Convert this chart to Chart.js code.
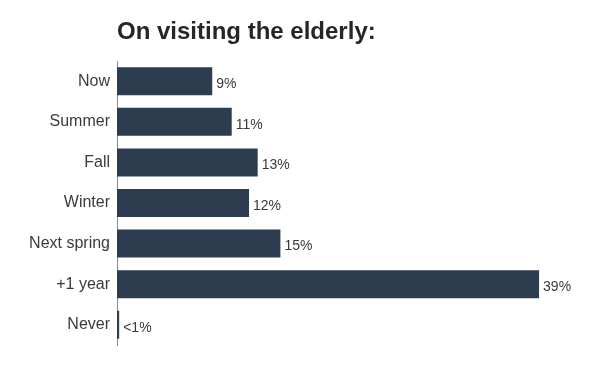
<!DOCTYPE html>
<html>
<head>
<meta charset="utf-8">
<script src="https://cdn.jsdelivr.net/npm/chart.js@4"></script>
<style>
html,body{margin:0;padding:0;background:#fff;}
#wrap{width:614px;height:366px;position:relative;}
</style>
</head>
<body>
<div id="wrap"><canvas id="c" width="614" height="366"></canvas></div>
<script>
const titleText = "On visiting the elderly:";
const categories = ["Now", "Summer", "Fall", "Winter", "Next spring", "+1 year", "Never"];
const values = [8.8, 10.6, 13.0, 12.2, 15.1, 39.0, 0.2];
const valueLabels = ["9%", "11%", "13%", "12%", "15%", "39%", "<1%"];

const extras = {
  id: 'extras',
  afterDraw(chart) {
    const ctx = chart.ctx;
    const area = chart.chartArea;
    ctx.save();
    ctx.fillStyle = '#262626';
    ctx.font = 'bold 24px "Liberation Sans", Arial, sans-serif';
    ctx.textAlign = 'left';
    ctx.textBaseline = 'middle';
    ctx.fillText(titleText, area.left, 32);
    const meta = chart.getDatasetMeta(0);
    ctx.font = '14px "Liberation Sans", Arial, sans-serif';
    ctx.fillStyle = '#3a3a3a';
    meta.data.forEach((bar, i) => {
      ctx.fillText(valueLabels[i], bar.x + 4, bar.y + 3);
    });
    ctx.restore();
  }
};

new Chart(document.getElementById('c'), {
  type: 'bar',
  data: {
    labels: categories,
    datasets: [{
      data: values,
      backgroundColor: '#2c3d4f',
      borderWidth: 0,
      categoryPercentage: 0.69,
      barPercentage: 1.0
    }]
  },
  options: {
    indexAxis: 'y',
    responsive: false,
    animation: false,
    layout: { padding: { top: 61, bottom: 21, left: 0, right: 10 } },
    plugins: { legend: { display: false }, tooltip: { enabled: false }, title: { display: false } },
    scales: {
      x: { display: false, min: 0, max: 45 },
      y: {
        afterFit(s) { s.width = 117; },
        grid: { display: false, drawTicks: false },
        border: { display: true, color: '#8a8a8a', width: 1 },
        ticks: {
          color: '#3a3a3a',
          padding: 7,
          font: { family: '"Liberation Sans", Arial, sans-serif', size: 16 }
        }
      }
    }
  },
  plugins: [extras]
});
</script>
</body>
</html>
